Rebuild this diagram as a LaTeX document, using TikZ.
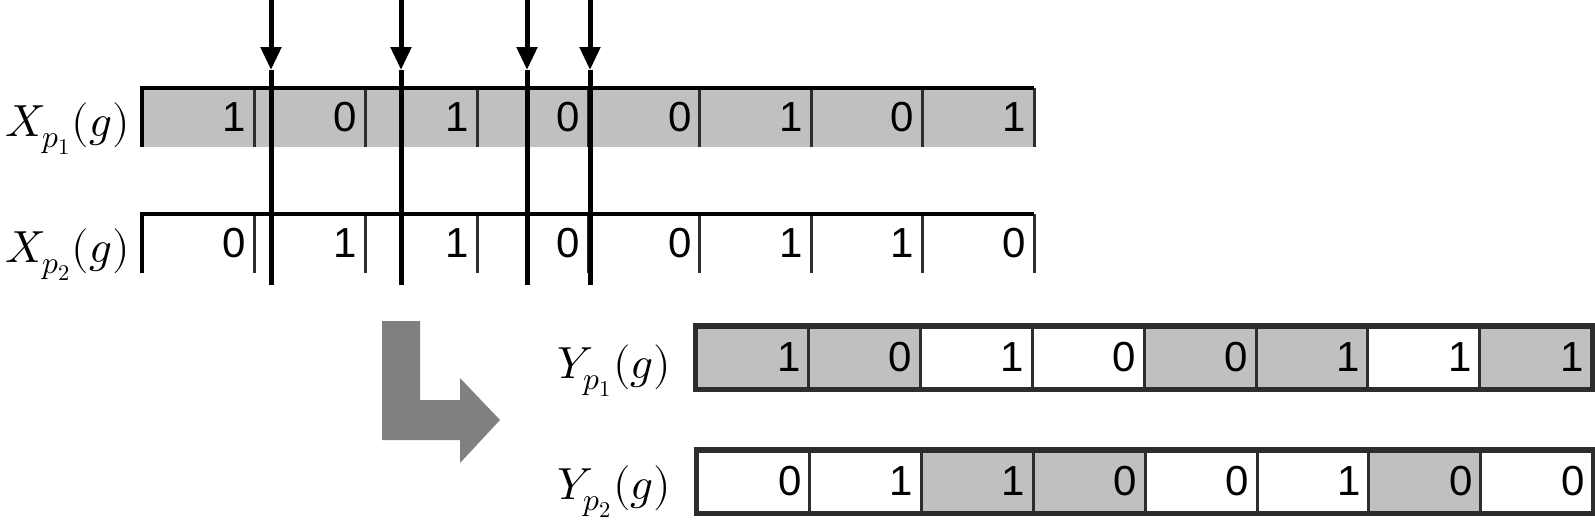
\documentclass[tikz,border=0pt]{standalone}
\usepackage{fontspec}
\usepackage{unicode-math}
\newfontfamily\digitfont{Liberation Sans}
\usetikzlibrary{arrows.meta}
\definecolor{cellgray}{RGB}{192,192,192}
\definecolor{arrowgray}{RGB}{128,128,128}
\definecolor{edgedark}{RGB}{45,45,45}
\begin{document}
\begin{tikzpicture}[x=0.5pt,y=-0.5pt,
  digits/.style={font=\digitfont\fontsize{21}{21}\selectfont},
  xcell/.style={digits, anchor=west, minimum height=29pt, text width=47.7pt,
     inner xsep=4pt, inner ysep=0pt, align=right, draw=none},
  ycell/.style={digits, anchor=west, minimum height=30.5pt, text width=47.95pt,
     inner xsep=4pt, inner ysep=0pt, align=right, draw=edgedark, line width=1.5pt},
  divider/.style={draw=edgedark, line width=1.5pt},
  rowedge/.style={draw=black, line width=2pt},
  yedge/.style={draw=edgedark, line width=2.2pt},
  cutline/.style={draw=black, line width=2.5pt},
  cutarrow/.style={cutline, -{Triangle[width=10pt,length=11.5pt]}},
  lab/.style={font=\fontsize{22.5}{27}\selectfont, inner sep=0pt},
  bigarrow/.style={fill=arrowgray, draw=none}]
\useasboundingbox (0,0) rectangle (1595,520);

% X rows
\foreach \v [count=\i] in {1,0,1,0,0,1,0,1}
  \node[xcell, fill=cellgray] (xa\i) at ({142+(\i-1)*111.4},117.5) {\v};
\foreach \v [count=\i] in {0,1,1,0,0,1,1,0}
  \node[xcell, fill=white] (xb\i) at ({142+(\i-1)*111.4},243.5) {\v};
\foreach \i in {1,...,8} {
  \draw[divider] (xa\i.north east) -- (xa\i.south east);
  \draw[divider] (xb\i.north east) -- (xb\i.south east);
}
\draw[rowedge] (xa1.south west) |- (xa8.north east);
\draw[rowedge] (xb1.south west) |- (xb8.north east);

\node[lab, anchor=base east] (lxa) at (130,136) {$X_{p_1}(g)$};
\node[lab, anchor=base east] (lxb) at (130,262) {$X_{p_2}(g)$};

% cut points
\foreach \n/\x in {1/271,2/401,3/527,4/590} {
  \coordinate (top\n) at (\x,0);
  \coordinate (tip\n) at (\x,70);
  \coordinate (bot\n) at (\x,285);
  \draw[cutarrow] (top\n) -- (tip\n);
  \draw[cutline] (tip\n) -- (bot\n);
}

% gray bent arrow
\path[bigarrow] (382,321) -- (420,321) -- (420,400) -- (460,400) -- (460,378)
  -- (500,420) -- (460,463) -- (460,440) -- (382,440) -- cycle;

% Y rows
\foreach \v/\c [count=\i] in {1/cellgray,0/cellgray,1/white,0/white,0/cellgray,1/cellgray,1/white,1/cellgray}
  \node[ycell, fill=\c] (ya\i) at ({695+(\i-1)*111.9},357.5) {\v};
\foreach \v/\c [count=\i] in {0/white,1/white,1/cellgray,0/cellgray,0/white,1/white,0/cellgray,0/white}
  \node[ycell, fill=\c] (yb\i) at ({696+(\i-1)*111.9},481.5) {\v};
\draw[yedge] (ya1.north west) rectangle (ya8.south east);
\draw[yedge] (yb1.north west) rectangle (yb8.south east);

\node[lab, anchor=base east] (lya) at (671,378) {$Y_{p_1}(g)$};
\node[lab, anchor=base east] (lyb) at (671,499) {$Y_{p_2}(g)$};
\end{tikzpicture}
\end{document}
